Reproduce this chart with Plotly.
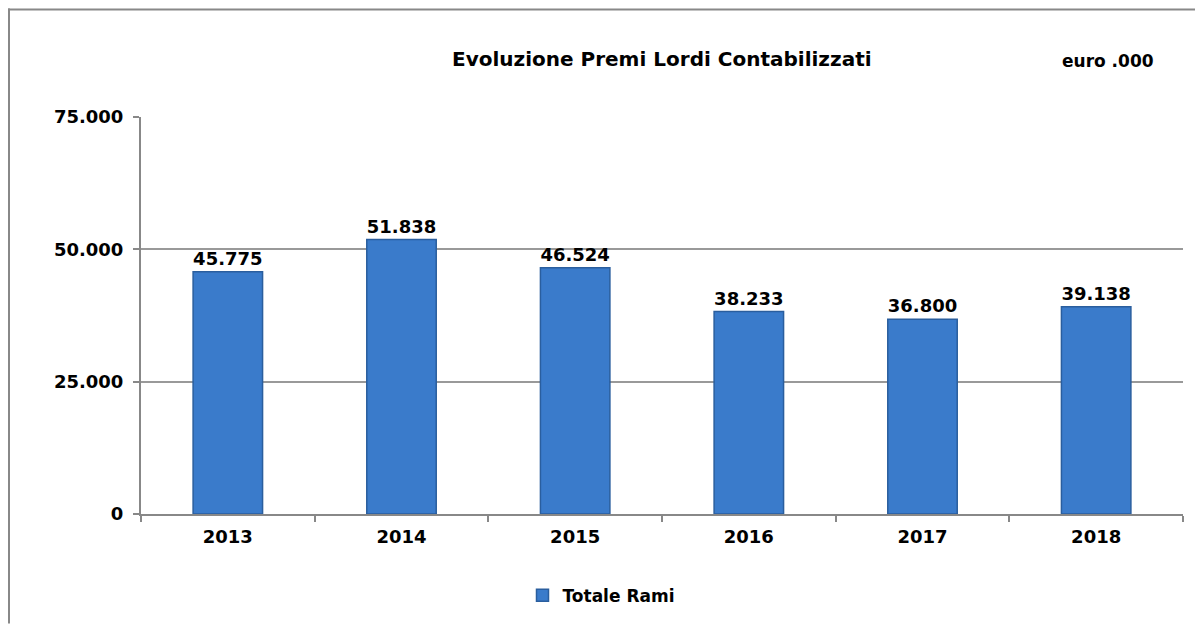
import plotly.graph_objects as go

# data
years = ["2013", "2014", "2015", "2016", "2017", "2018"]
premi = [45775, 51838, 46524, 38233, 36800, 39138]
y_ticks = [0, 25000, 50000, 75000]

# the page body adds an 8px offset, so work in screen pixels and shift
OFF = 8
W, H = 1203 - OFF, 626 - OFF
ML, MR, MT, MB = 141 - OFF, 20, 117 - OFF, 110
pw, ph = W - ML - MR, H - MT - MB


def px_x(x):
    return (x - OFF - ML) / pw


def px_y(y):
    return (H - MB - (y - OFF)) / ph


bold = dict(family="Verdana, DejaVu Sans", weight="bold", color="black")

fig = go.Figure(go.Bar(
    x=years,
    y=premi,
    name="Totale Rami",
    marker=dict(color="#3A7BCB", line=dict(color="#2A5E9E", width=1.5)),
    texttemplate="%{y:,d}",
    textposition="outside",
    textfont=dict(size=18, **bold),
    cliponaxis=False,
))

fig.update_layout(
    width=W, height=H,
    margin=dict(l=ML, r=MR, t=MT, b=MB),
    plot_bgcolor="white", paper_bgcolor="white",
    separators=",.",
    bargap=0.6,
    font=dict(size=17, **bold),
    showlegend=True,
    legend=dict(orientation="h", x=px_x(601), y=px_y(598), xanchor="center", yanchor="middle",
                font=dict(size=17, **bold), itemwidth=30),
    xaxis=dict(showline=True, linecolor="#888", linewidth=2, ticks="outside",
               tickson="boundaries", tickcolor="#888", ticklen=6, tickwidth=2,
               ticklabelstandoff=5, tickfont=dict(size=18, **bold)),
    yaxis=dict(range=[0, 75000], tickvals=y_ticks, tickformat=",d",
               showline=True, linecolor="#888", linewidth=2, ticks="outside",
               tickcolor="#888", ticklen=6, tickwidth=2, zeroline=False,
               ticklabelstandoff=6,
               showgrid=True, gridcolor="#999", gridwidth=1.5,
               tickfont=dict(size=18, **bold)),
    annotations=[
        dict(text="Evoluzione Premi Lordi Contabilizzati", x=px_x(662), y=px_y(45),
             xref="paper", yref="paper", xanchor="center", showarrow=False,
             font=dict(size=20, **bold)),
        dict(text="euro .000", x=px_x(1108), y=px_y(49), xref="paper", yref="paper",
             xanchor="center", showarrow=False, font=dict(size=17, **bold)),
    ],
    shapes=[
        dict(type="line", xref="paper", yref="paper", x0=px_x(8.5), x1=px_x(8.5),
             y0=px_y(8), y1=px_y(626), line=dict(color="#888", width=3)),
        dict(type="line", xref="paper", yref="paper", x0=px_x(8), x1=px_x(1203),
             y0=px_y(9), y1=px_y(9), line=dict(color="#888", width=2)),
    ],
)

fig.write_html("out.html")
